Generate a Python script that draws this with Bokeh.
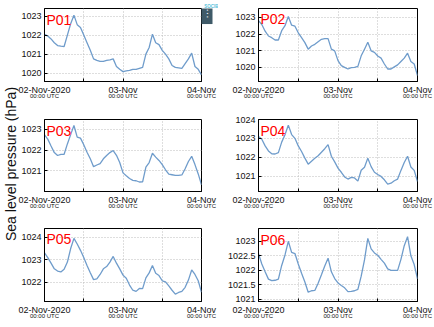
from bokeh.plotting import figure
from bokeh.models import FixedTicker, LinearAxis, Label, Range1d, Title
from bokeh.layouts import row, column
from bokeh.embed import file_html
from bokeh.resources import INLINE

# ---------------- data (hours since 02-Nov-2020 00:00 UTC) ----------------
hours = list(range(49))

p01 = [1022.04, 1021.95, 1021.8, 1021.6, 1021.45, 1021.42, 1021.4, 1022.0, 1022.6, 1023.05,
       1022.55, 1022.4, 1022.0, 1021.6, 1021.2, 1020.75, 1020.67, 1020.62, 1020.62, 1020.67,
       1020.7, 1020.75, 1020.35, 1020.2, 1020.08, 1020.12, 1020.14, 1020.2, 1020.2, 1020.25,
       1020.3, 1021.0, 1021.35, 1022.05, 1021.6, 1021.5, 1021.2, 1021.0, 1020.75, 1020.4,
       1020.3, 1020.28, 1020.25, 1020.5, 1020.75, 1021.05, 1020.35, 1020.2, 1019.9]
p02 = [1022.8, 1022.57, 1022.17, 1021.88, 1021.78, 1021.64, 1021.64, 1022.2, 1022.5, 1023.05,
       1022.53, 1022.47, 1022.07, 1021.78, 1021.48, 1021.09, 1021.28, 1021.38, 1021.54, 1021.68,
       1021.72, 1021.72, 1021.09, 1020.99, 1020.4, 1020.1, 1020.0, 1019.9, 1019.98, 1020.0,
       1020.06, 1020.69, 1021.09, 1021.5, 1020.99, 1020.9, 1020.68, 1020.55, 1020.2, 1019.9,
       1019.9, 1020.03, 1020.15, 1020.35, 1020.55, 1020.85, 1020.35, 1020.2, 1019.5]
p03 = [1022.74, 1022.53, 1022.2, 1021.88, 1021.74, 1021.79, 1021.8, 1022.3, 1022.75, 1023.19,
       1022.63, 1022.58, 1022.26, 1021.9, 1021.58, 1021.2, 1021.28, 1021.35, 1021.58, 1021.74,
       1021.88, 1021.98, 1021.75, 1021.4, 1020.9, 1020.76, 1020.63, 1020.54, 1020.52, 1020.46,
       1020.47, 1021.18, 1021.4, 1021.85, 1021.66, 1021.5, 1021.3, 1021.05, 1020.84, 1020.81,
       1020.78, 1020.78, 1020.8, 1021.1, 1021.45, 1021.7, 1021.3, 1020.85, 1020.32]
p04 = [1023.1, 1022.95, 1022.6, 1022.33, 1022.18, 1022.17, 1022.24, 1022.8, 1023.19, 1023.7,
       1023.2, 1023.0, 1022.6, 1022.3, 1021.95, 1021.63, 1021.79, 1021.94, 1022.08, 1022.26,
       1022.45, 1022.67, 1022.05, 1021.75, 1021.42, 1021.2, 1020.95, 1020.84, 1020.93, 1020.9,
       1020.73, 1021.31, 1021.47, 1021.95, 1021.5, 1021.2, 1021.08, 1020.98, 1020.8, 1020.57,
       1020.62, 1020.75, 1020.84, 1021.3, 1021.72, 1022.05, 1021.48, 1021.3, 1020.71]
p05 = [1023.31, 1023.1, 1022.85, 1022.6, 1022.5, 1022.46, 1022.58, 1022.9, 1023.5, 1023.95,
       1023.7, 1023.42, 1023.1, 1022.75, 1022.43, 1022.12, 1022.15, 1022.35, 1022.6, 1022.7,
       1022.9, 1023.15, 1022.85, 1022.6, 1022.32, 1022.18, 1021.88, 1021.65, 1021.6, 1021.73,
       1021.72, 1022.2, 1022.42, 1022.75, 1022.4, 1022.3, 1022.07, 1022.02, 1021.84, 1021.65,
       1021.48, 1021.55, 1021.6, 1021.78, 1022.1, 1022.55, 1022.35, 1022.07, 1021.56]
p06 = [1022.57, 1022.22, 1021.95, 1021.7, 1021.65, 1021.66, 1021.7, 1022.17, 1022.53, 1023.0,
       1022.62, 1022.58, 1022.22, 1021.9, 1021.6, 1021.25, 1021.3, 1021.31, 1021.56, 1021.85,
       1022.15, 1022.42, 1021.95, 1021.72, 1021.57, 1021.48, 1021.4, 1021.27, 1021.28, 1021.3,
       1021.35, 1021.8, 1022.36, 1023.1, 1022.74, 1022.6, 1022.52, 1022.38, 1022.25, 1022.05,
       1022.0, 1022.0, 1022.0, 1022.38, 1022.85, 1023.16, 1022.5, 1022.2, 1021.71]

stations = ["P01", "P02", "P03", "P04", "P05", "P06"]
series = [p01, p02, p03, p04, p05, p06]
y_ticks = [[1020, 1021, 1022, 1023], [1020, 1021, 1022, 1023], [1021, 1022, 1023],
           [1021, 1022, 1023, 1024], [1022, 1023, 1024], [1021, 1021.5, 1022, 1022.5, 1023]]
y_limits = [(1019.56, 1023.4), (1019.15, 1023.53), (1020.0, 1023.48),
            (1020.18, 1024.0), (1021.15, 1024.39), (1020.93, 1023.44)]
x_ticks = [0, 12, 24, 36, 48]
date_labels = {0: "02-Nov-2020", 12: "", 24: "03-Nov", 36: "", 48: "04-Nov"}
time_labels = {0: "00:00 UTC", 12: "", 24: "00:00 UTC", 36: "", 48: "00:00 UTC"}
y_title = "Sea level pressure (hPa)"
logo_text = "SOCIB"

FONT = "Liberation Sans"
LINE = "#6f9ccb"

# layout geometry (pixels)
col_w = [200, 217]
col_border = [(25, 17), (40, 18)]
row_h = [110, 108, 109]
frame_top = [[8, 7], [9, 9], [9, 10]]
frame_h = [[73, 74], [72, 72], [74, 73]]


def panel(i):
    r, c = divmod(i, 2)
    w, h = col_w[c], row_h[r]
    bl, br = col_border[c]
    bt = frame_top[r][c]
    bb = h - bt - frame_h[r][c]
    p = figure(width=w, height=h, output_backend="svg", toolbar_location=None,
               x_range=Range1d(0, 48), y_range=Range1d(*y_limits[i]),
               min_border_left=bl, min_border_right=br,
               min_border_top=bt, min_border_bottom=bb,
               x_axis_location=None, y_axis_location="left")
    p.line(hours, series[i], line_color=LINE, line_width=1.3)

    ax = LinearAxis(ticker=FixedTicker(ticks=x_ticks), major_label_overrides=date_labels)
    ax2 = LinearAxis(ticker=FixedTicker(ticks=x_ticks), major_label_overrides=time_labels)
    for a in (ax, ax2):
        a.minor_tick_line_color = None
        a.major_label_text_font = FONT
        a.major_label_text_color = "#111111"
    ax.major_tick_in = 3
    ax.major_tick_out = 0
    ax.major_label_standoff = 3
    ax.major_label_text_font_size = "9px"
    ax.axis_line_color = "black"
    ax2.axis_line_color = None
    ax2.major_tick_line_color = None
    ax2.major_tick_in = 0
    ax2.major_tick_out = 0
    ax2.major_label_standoff = -5
    ax2.major_label_text_font_size = "6px"
    p.add_layout(ax, "below")
    p.add_layout(ax2, "below")

    yt = y_ticks[i]
    ya = p.yaxis[0]
    ya.ticker = FixedTicker(ticks=yt)
    ya.major_label_overrides = {float(v): f"{v:g}" for v in yt}
    ya.minor_tick_line_color = None
    ya.major_tick_in = 3
    ya.major_tick_out = 0
    ya.major_label_standoff = 3
    ya.major_label_text_font = FONT
    ya.major_label_text_font_size = "9px"
    ya.major_label_text_color = "#111111"
    ya.axis_line_color = "black"

    p.xgrid.ticker = FixedTicker(ticks=x_ticks)
    p.ygrid.ticker = FixedTicker(ticks=yt)
    for g in (p.xgrid, p.ygrid):
        g.grid_line_color = "#bdbdbd"
        g.grid_line_dash = "1 2"
        g.grid_line_width = 1

    p.outline_line_color = "black"
    p.outline_line_width = 1
    p.outline_line_alpha = 1
    p.background_fill_color = "white"
    p.border_fill_color = "white"

    p.add_layout(Label(x=2, y=frame_h[r][c] - 3, x_units="screen", y_units="screen",
                       text=stations[i], text_color="#ff0000", text_font=FONT,
                       text_font_size="14px", text_baseline="top", text_align="left"))
    return p


panels = [panel(i) for i in range(6)]

# SOCIB logo in the top-right corner of the first panel's border
panels[0].add_layout(Title(text=logo_text, align="right", offset=-17, standoff=0,
                           text_font=FONT, text_font_size="4.5px", text_font_style="bold",
                           text_color="#5bc3dc"), "above")
panels[0].add_layout(Title(text=" \u00b7\u00b7\u00b7 ", align="left", offset=0, standoff=0,
                           text_font=FONT, text_font_size="10px", text_font_style="normal",
                           text_color="white", background_fill_color="#3f5a68"), "right")

# y-axis title strip
lab = figure(width=18, height=sum(row_h), output_backend="svg", toolbar_location=None,
             x_range=Range1d(0, 1), y_range=Range1d(0, 1),
             min_border=0, x_axis_location=None, y_axis_location="left")
lab.outline_line_color = None
lab.xgrid.visible = False
lab.ygrid.visible = False
ly = lab.yaxis[0]
ly.ticker = FixedTicker(ticks=[])
ly.axis_line_color = None
ly.major_tick_line_color = None
ly.minor_tick_line_color = None
ly.major_tick_in = 0
ly.major_tick_out = 0
ly.major_label_text_font_size = "0px"
ly.major_label_standoff = 0
ly.axis_label = y_title
ly.axis_label_standoff = 0
ly.axis_label_text_font = FONT
ly.axis_label_text_font_size = "14px"
ly.axis_label_text_font_style = "normal"
ly.axis_label_text_color = "#111111"

layout = row(lab, column(row(panels[0], panels[1]), row(panels[2], panels[3]),
                         row(panels[4], panels[5])))

open("out.html", "w").write(file_html(layout, INLINE))
